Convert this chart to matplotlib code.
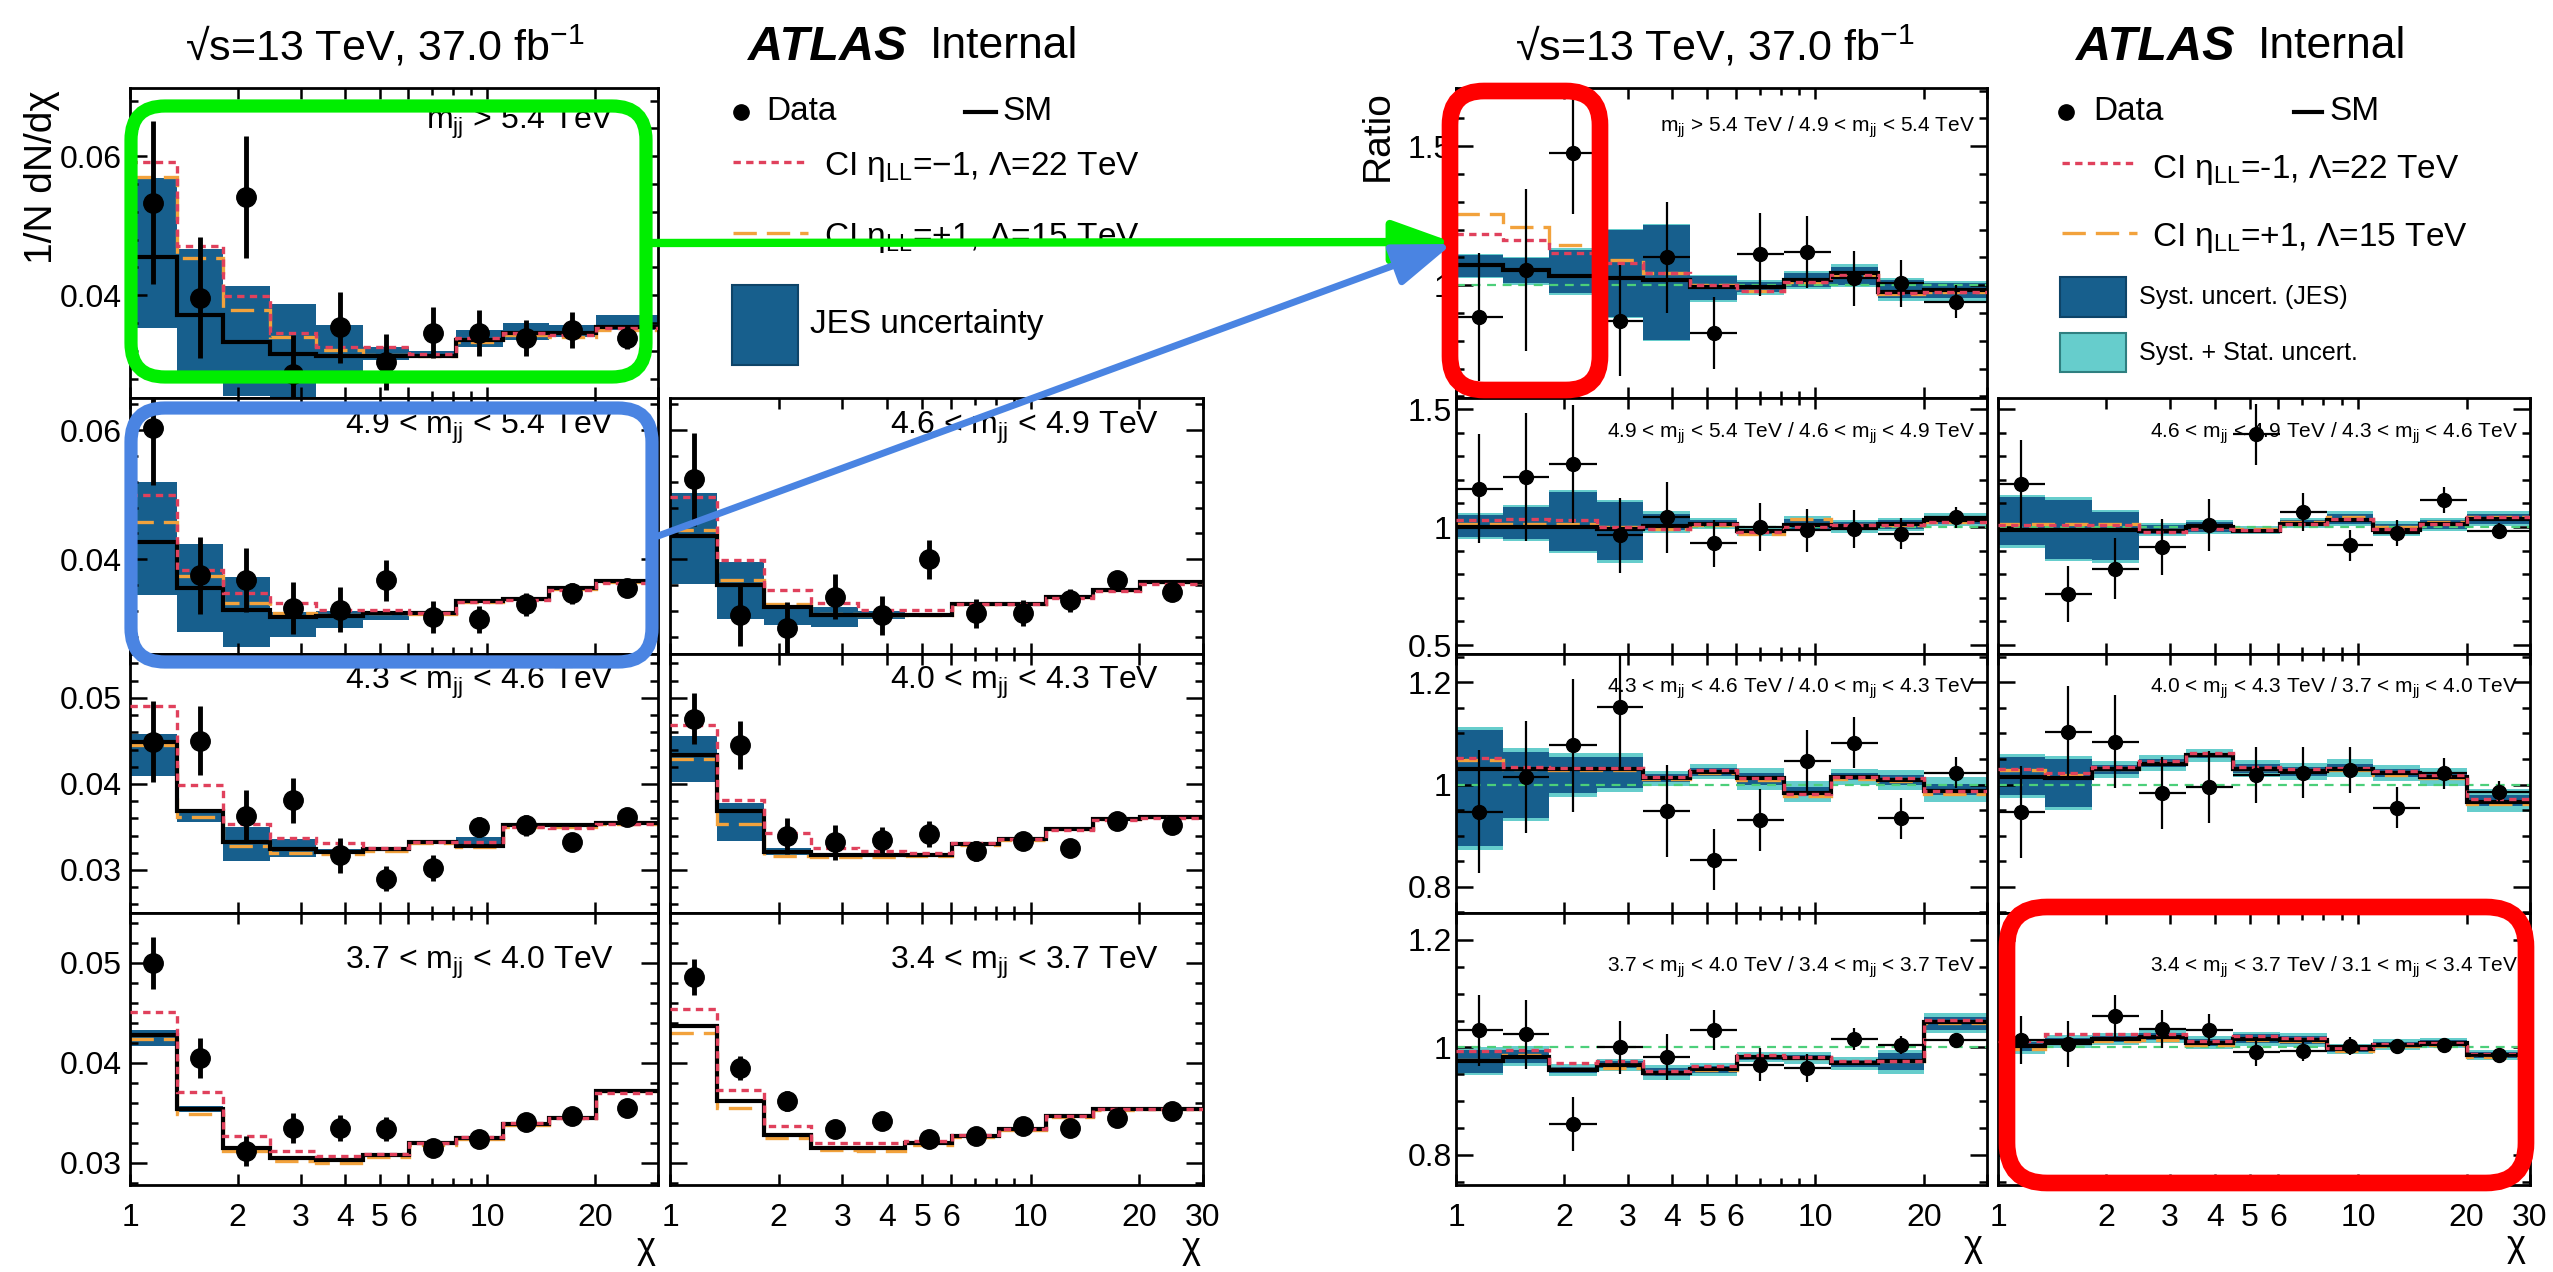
import numpy as np
import matplotlib
matplotlib.use('Agg')
import matplotlib.pyplot as plt
from matplotlib.patches import FancyBboxPatch, Rectangle
from matplotlib.ticker import FixedLocator, MultipleLocator, NullFormatter

plt.rcParams['font.family'] = ['Liberation Sans', 'DejaVu Sans']
plt.rcParams['mathtext.fontset'] = 'custom'
plt.rcParams['mathtext.rm'] = 'Liberation Sans'
plt.rcParams['mathtext.it'] = 'Liberation Sans:italic'
plt.rcParams['mathtext.bf'] = 'Liberation Sans:bold'

W, H = 2553, 1272

# chi binning
chi_edges = [1.0, 1.35, 1.82, 2.46, 3.32, 4.48, 6.05, 8.17, 11.02, 14.88, 20.09, 30.0]

# ---------------- normalised chi distributions, one entry per mjj slice ----------------
dist_labels = ['m$_{\\mathrm{jj}}$ > 5.4 TeV',
               '4.9 < m$_{\\mathrm{jj}}$ < 5.4 TeV',
               '4.6 < m$_{\\mathrm{jj}}$ < 4.9 TeV',
               '4.3 < m$_{\\mathrm{jj}}$ < 4.6 TeV',
               '4.0 < m$_{\\mathrm{jj}}$ < 4.3 TeV',
               '3.7 < m$_{\\mathrm{jj}}$ < 4.0 TeV',
               '3.4 < m$_{\\mathrm{jj}}$ < 3.7 TeV']
dist_data = [
    [0.0533, 0.0396, 0.0541, 0.0287, 0.0354, 0.0304, 0.0346, 0.0345, 0.0338, 0.0350, 0.0338],
    [0.0603, 0.0375, 0.0368, 0.0324, 0.0322, 0.0367, 0.0310, 0.0307, 0.0330, 0.0347, 0.0356],
    [0.0524, 0.0313, 0.0293, 0.0342, 0.0313, 0.0400, 0.0316, 0.0316, 0.0336, 0.0367, 0.0349],
    [0.0449, 0.0450, 0.0363, 0.0381, 0.0317, 0.0290, 0.0302, 0.0350, 0.0352, 0.0332, 0.0361],
    [0.0476, 0.0445, 0.0339, 0.0332, 0.0335, 0.0342, 0.0322, 0.0334, 0.0325, 0.0357, 0.0352],
    [0.0500, 0.0405, 0.0312, 0.0335, 0.0335, 0.0334, 0.0315, 0.0324, 0.0341, 0.0347, 0.0355],
    [0.0486, 0.0395, 0.0362, 0.0334, 0.0342, 0.0324, 0.0327, 0.0337, 0.0335, 0.0345, 0.0352],
]
dist_err = [
    [0.0117, 0.0087, 0.0088, 0.0055, 0.0051, 0.0040, 0.0037, 0.0033, 0.0026, 0.0026, 0.0015],
    [0.0088, 0.0060, 0.0050, 0.0040, 0.0035, 0.0032, 0.0025, 0.0021, 0.0018, 0.0016, 0.0010],
    [0.0072, 0.0048, 0.0040, 0.0035, 0.0030, 0.0030, 0.0022, 0.0020, 0.0018, 0.0013, 0.0008],
    [0.0047, 0.0040, 0.0030, 0.0026, 0.0020, 0.0015, 0.0015, 0.0012, 0.0012, 0.0008, 0.0008],
    [0.0030, 0.0028, 0.0021, 0.0020, 0.0015, 0.0015, 0.0012, 0.0010, 0.0008, 0.0008, 0.0007],
    [0.0026, 0.0020, 0.0015, 0.0015, 0.0013, 0.0012, 0.0008, 0.0007, 0.0006, 0.0006, 0.0006],
    [0.0018, 0.0012, 0.0010, 0.0008, 0.0006, 0.0005, 0.0005, 0.0005, 0.0005, 0.0005, 0.0005],
]
dist_sm = [
    [0.0455, 0.0372, 0.0333, 0.0316, 0.0312, 0.0312, 0.0312, 0.0335, 0.0345, 0.0345, 0.0354],
    [0.0427, 0.0355, 0.0321, 0.0310, 0.0312, 0.0316, 0.0316, 0.0335, 0.0339, 0.0355, 0.0366],
    [0.0436, 0.0360, 0.0326, 0.0313, 0.0313, 0.0313, 0.0331, 0.0331, 0.0342, 0.0353, 0.0365],
    [0.0449, 0.0368, 0.0332, 0.0324, 0.0321, 0.0324, 0.0333, 0.0328, 0.0352, 0.0352, 0.0355],
    [0.0434, 0.0368, 0.0321, 0.0317, 0.0317, 0.0317, 0.0330, 0.0336, 0.0348, 0.0359, 0.0361],
    [0.0428, 0.0354, 0.0315, 0.0305, 0.0303, 0.0308, 0.0320, 0.0325, 0.0339, 0.0345, 0.0372],
    [0.0437, 0.0362, 0.0328, 0.0315, 0.0315, 0.0320, 0.0327, 0.0334, 0.0347, 0.0354, 0.0354],
]
dist_jes_lo = [
    [0.0352, 0.0290, 0.0255, 0.0254, 0.0285, 0.0306, 0.0309, 0.0326, 0.0335, 0.0340, 0.0350],
    [0.0344, 0.0287, 0.0264, 0.0280, 0.0294, 0.0306, 0.0312, 0.0332, 0.0336, 0.0352, 0.0363],
    [0.0362, 0.0308, 0.0298, 0.0295, 0.0308, 0.0310, 0.0328, 0.0328, 0.0339, 0.0350, 0.0362],
    [0.0409, 0.0356, 0.0310, 0.0315, 0.0318, 0.0322, 0.0331, 0.0326, 0.0350, 0.0350, 0.0353],
    [0.0402, 0.0334, 0.0317, 0.0315, 0.0315, 0.0315, 0.0329, 0.0335, 0.0347, 0.0358, 0.0360],
    [0.0417, 0.0351, 0.0313, 0.0303, 0.0302, 0.0307, 0.0319, 0.0324, 0.0338, 0.0344, 0.0371],
    [0.0435, 0.0360, 0.0327, 0.0314, 0.0314, 0.0319, 0.0326, 0.0333, 0.0346, 0.0353, 0.0353],
]
dist_jes_hi = [
    [0.0568, 0.0467, 0.0413, 0.0387, 0.0357, 0.0325, 0.0320, 0.0350, 0.0360, 0.0357, 0.0371],
    [0.0520, 0.0424, 0.0373, 0.0318, 0.0320, 0.0318, 0.0320, 0.0338, 0.0342, 0.0358, 0.0369],
    [0.0502, 0.0396, 0.0326, 0.0326, 0.0320, 0.0316, 0.0334, 0.0334, 0.0345, 0.0356, 0.0368],
    [0.0458, 0.0371, 0.0350, 0.0336, 0.0324, 0.0326, 0.0335, 0.0338, 0.0354, 0.0354, 0.0357],
    [0.0456, 0.0378, 0.0325, 0.0320, 0.0319, 0.0319, 0.0331, 0.0337, 0.0349, 0.0360, 0.0362],
    [0.0433, 0.0357, 0.0317, 0.0307, 0.0305, 0.0309, 0.0321, 0.0326, 0.0340, 0.0346, 0.0373],
    [0.0439, 0.0364, 0.0329, 0.0316, 0.0316, 0.0321, 0.0328, 0.0335, 0.0348, 0.0355, 0.0355],
]
dist_ci_neg = [
    [0.0592, 0.0470, 0.0399, 0.0345, 0.0326, 0.0326, 0.0316, 0.0338, 0.0345, 0.0342, 0.0352],
    [0.0500, 0.0383, 0.0347, 0.0332, 0.0322, 0.0322, 0.0316, 0.0333, 0.0337, 0.0352, 0.0363],
    [0.0497, 0.0398, 0.0353, 0.0332, 0.0321, 0.0321, 0.0330, 0.0330, 0.0340, 0.0351, 0.0362],
    [0.0491, 0.0399, 0.0353, 0.0337, 0.0331, 0.0326, 0.0333, 0.0333, 0.0350, 0.0349, 0.0353],
    [0.0468, 0.0381, 0.0343, 0.0326, 0.0322, 0.0320, 0.0331, 0.0336, 0.0347, 0.0358, 0.0360],
    [0.0451, 0.0371, 0.0327, 0.0312, 0.0307, 0.0309, 0.0320, 0.0326, 0.0340, 0.0345, 0.0370],
    [0.0454, 0.0373, 0.0337, 0.0320, 0.0320, 0.0322, 0.0328, 0.0334, 0.0347, 0.0354, 0.0354],
]
dist_ci_pos = [
    [0.0570, 0.0453, 0.0378, 0.0340, 0.0321, 0.0314, 0.0313, 0.0333, 0.0342, 0.0340, 0.0350],
    [0.0458, 0.0374, 0.0332, 0.0316, 0.0314, 0.0316, 0.0315, 0.0334, 0.0338, 0.0354, 0.0365],
    [0.0446, 0.0367, 0.0330, 0.0315, 0.0314, 0.0313, 0.0331, 0.0331, 0.0342, 0.0353, 0.0365],
    [0.0445, 0.0362, 0.0328, 0.0320, 0.0318, 0.0322, 0.0331, 0.0327, 0.0350, 0.0350, 0.0353],
    [0.0429, 0.0353, 0.0316, 0.0315, 0.0315, 0.0316, 0.0329, 0.0335, 0.0348, 0.0359, 0.0361],
    [0.0424, 0.0349, 0.0312, 0.0302, 0.0300, 0.0306, 0.0318, 0.0324, 0.0338, 0.0345, 0.0372],
    [0.0430, 0.0355, 0.0325, 0.0313, 0.0312, 0.0318, 0.0326, 0.0333, 0.0346, 0.0353, 0.0354],
]

# ---------------- ratios of neighbouring mjj slices ----------------
ratio_labels = ['m$_{\\mathrm{jj}}$ > 5.4 TeV / 4.9 < m$_{\\mathrm{jj}}$ < 5.4 TeV',
                '4.9 < m$_{\\mathrm{jj}}$ < 5.4 TeV / 4.6 < m$_{\\mathrm{jj}}$ < 4.9 TeV',
                '4.6 < m$_{\\mathrm{jj}}$ < 4.9 TeV / 4.3 < m$_{\\mathrm{jj}}$ < 4.6 TeV',
                '4.3 < m$_{\\mathrm{jj}}$ < 4.6 TeV / 4.0 < m$_{\\mathrm{jj}}$ < 4.3 TeV',
                '4.0 < m$_{\\mathrm{jj}}$ < 4.3 TeV / 3.7 < m$_{\\mathrm{jj}}$ < 4.0 TeV',
                '3.7 < m$_{\\mathrm{jj}}$ < 4.0 TeV / 3.4 < m$_{\\mathrm{jj}}$ < 3.7 TeV',
                '3.4 < m$_{\\mathrm{jj}}$ < 3.7 TeV / 3.1 < m$_{\\mathrm{jj}}$ < 3.4 TeV']
ratio_data = [
    [0.884, 1.054, 1.475, 0.872, 1.100, 0.827, 1.111, 1.120, 1.024, 1.006, 0.940],
    [1.163, 1.212, 1.269, 0.965, 1.042, 0.932, 1.000, 0.986, 0.993, 0.972, 1.042],
    [1.181, 0.717, 0.823, 0.915, 1.007, 1.393, 1.064, 0.922, 0.975, 1.113, 0.983],
    [0.947, 1.015, 1.077, 1.152, 0.949, 0.853, 0.931, 1.046, 1.082, 0.934, 1.023],
    [0.947, 1.103, 1.084, 0.984, 0.995, 1.019, 1.023, 1.028, 0.955, 1.022, 0.986],
    [1.032, 1.024, 0.858, 1.000, 0.982, 1.032, 0.968, 0.962, 1.016, 1.005, 1.013],
    [1.014, 1.007, 1.058, 1.034, 1.033, 0.991, 0.994, 1.003, 1.003, 1.005, 0.986],
]
ratio_err = [
    [0.23, 0.29, 0.22, 0.20, 0.20, 0.13, 0.15, 0.13, 0.10, 0.085, 0.06],
    [0.23, 0.27, 0.25, 0.16, 0.15, 0.10, 0.10, 0.09, 0.08, 0.065, 0.045],
    [0.19, 0.12, 0.13, 0.12, 0.11, 0.13, 0.08, 0.065, 0.055, 0.055, 0.035],
    [0.12, 0.11, 0.13, 0.12, 0.09, 0.06, 0.06, 0.06, 0.05, 0.04, 0.03],
    [0.09, 0.09, 0.09, 0.07, 0.07, 0.055, 0.05, 0.045, 0.04, 0.03, 0.02],
    [0.066, 0.064, 0.05, 0.05, 0.042, 0.037, 0.03, 0.026, 0.02, 0.017, 0.012],
    [0.045, 0.043, 0.04, 0.035, 0.03, 0.025, 0.02, 0.017, 0.013, 0.01, 0.008],
]
ratio_sm = [
    [1.072, 1.054, 1.032, 1.024, 1.020, 0.992, 0.992, 1.018, 1.042, 0.976, 0.982],
    [1.000, 1.000, 1.000, 0.993, 1.003, 1.014, 0.983, 1.007, 1.003, 1.014, 1.028],
    [0.989, 0.989, 0.989, 0.983, 1.000, 0.983, 1.014, 1.028, 0.986, 1.014, 1.035],
    [1.031, 1.031, 1.031, 1.031, 1.012, 1.025, 1.012, 0.984, 1.015, 1.009, 0.988],
    [1.015, 1.012, 1.031, 1.041, 1.058, 1.031, 1.026, 1.031, 1.022, 1.015, 0.966],
    [0.974, 0.983, 0.958, 0.968, 0.953, 0.960, 0.983, 0.980, 0.971, 0.974, 1.048],
    [1.002, 1.011, 1.016, 1.020, 1.009, 1.016, 1.014, 0.997, 1.005, 1.008, 0.986],
]
ratio_jes_lo = [
    [1.030, 1.006, 0.970, 0.886, 0.803, 0.946, 0.975, 0.994, 1.000, 0.952, 0.952],
    [0.958, 0.950, 0.900, 0.859, 0.986, 1.000, 0.972, 0.993, 0.986, 0.993, 1.014],
    [0.922, 0.866, 0.859, 0.972, 0.979, 0.979, 1.007, 1.014, 0.972, 0.993, 1.014],
    [0.879, 0.935, 0.983, 0.993, 1.004, 1.017, 1.000, 0.978, 1.008, 1.000, 0.980],
    [0.979, 0.957, 1.020, 1.035, 1.052, 1.022, 1.017, 1.024, 1.015, 1.008, 0.958],
    [0.952, 0.971, 0.952, 0.961, 0.946, 0.952, 0.977, 0.977, 0.964, 0.958, 1.033],
    [0.993, 1.004, 1.010, 1.013, 1.002, 1.008, 1.006, 0.992, 1.000, 1.003, 0.981],
]
ratio_jes_hi = [
    [1.108, 1.096, 1.126, 1.197, 1.215, 1.032, 1.010, 1.042, 1.066, 1.018, 1.006],
    [1.050, 1.085, 1.148, 1.106, 1.057, 1.028, 0.993, 1.035, 1.021, 1.028, 1.049],
    [1.127, 1.116, 1.064, 1.007, 1.021, 0.993, 1.028, 1.057, 1.014, 1.028, 1.057],
    [1.106, 1.064, 1.054, 1.054, 1.020, 1.033, 1.022, 0.995, 1.022, 1.018, 1.001],
    [1.054, 1.050, 1.038, 1.050, 1.062, 1.040, 1.034, 1.041, 1.030, 1.022, 0.980],
    [0.996, 0.996, 0.964, 0.974, 0.961, 0.965, 0.986, 0.986, 0.977, 0.989, 1.057],
    [1.010, 1.018, 1.022, 1.027, 1.016, 1.024, 1.022, 1.002, 1.010, 1.013, 0.991],
]
ratio_tot_lo = [
    [1.025, 1.000, 0.965, 0.880, 0.798, 0.940, 0.966, 0.985, 0.992, 0.944, 0.944],
    [0.948, 0.940, 0.890, 0.849, 0.976, 0.990, 0.962, 0.983, 0.976, 0.983, 1.004],
    [0.912, 0.856, 0.849, 0.962, 0.969, 0.969, 0.997, 1.004, 0.962, 0.983, 1.004],
    [0.872, 0.928, 0.976, 0.986, 0.997, 1.010, 0.989, 0.966, 1.000, 0.990, 0.965],
    [0.973, 0.951, 1.012, 1.027, 1.044, 1.014, 1.008, 1.015, 1.006, 0.998, 0.946],
    [0.948, 0.966, 0.946, 0.956, 0.940, 0.946, 0.972, 0.970, 0.958, 0.950, 1.026],
    [0.988, 0.999, 1.005, 1.008, 0.997, 1.003, 1.001, 0.987, 0.995, 0.998, 0.976],
]
ratio_tot_hi = [
    [1.113, 1.102, 1.132, 1.203, 1.220, 1.038, 1.020, 1.050, 1.075, 1.026, 1.014],
    [1.060, 1.095, 1.158, 1.116, 1.067, 1.038, 1.003, 1.045, 1.031, 1.038, 1.059],
    [1.137, 1.126, 1.074, 1.017, 1.031, 1.003, 1.038, 1.067, 1.024, 1.038, 1.067],
    [1.113, 1.071, 1.061, 1.061, 1.027, 1.040, 1.033, 1.007, 1.030, 1.028, 1.015],
    [1.060, 1.056, 1.046, 1.058, 1.070, 1.048, 1.043, 1.050, 1.039, 1.032, 0.992],
    [1.000, 1.002, 0.970, 0.979, 0.967, 0.971, 0.992, 0.992, 0.983, 0.996, 1.064],
    [1.015, 1.023, 1.027, 1.032, 1.021, 1.029, 1.027, 1.007, 1.015, 1.018, 0.996],
]
ratio_ci_neg = [
    [1.185, 1.164, 1.114, 1.078, 1.042, 1.000, 0.980, 1.012, 1.036, 0.970, 0.976],
    [1.028, 1.035, 1.028, 1.000, 0.993, 1.014, 0.979, 1.000, 1.007, 1.007, 1.021],
    [1.007, 1.007, 1.007, 0.979, 0.993, 0.986, 1.014, 1.035, 0.993, 1.014, 1.042],
    [1.051, 1.035, 1.032, 1.032, 1.015, 1.028, 1.012, 0.982, 1.015, 1.012, 0.988],
    [1.031, 1.022, 1.035, 1.045, 1.062, 1.035, 1.031, 1.033, 1.026, 1.019, 0.972],
    [0.993, 0.995, 0.971, 0.974, 0.957, 0.965, 0.985, 0.983, 0.974, 0.974, 1.051],
    [1.011, 1.024, 1.024, 1.024, 1.011, 1.021, 1.018, 0.999, 1.007, 1.009, 0.988],
]
ratio_ci_pos = [
    [1.257, 1.209, 1.144, 1.090, 1.042, 1.000, 0.980, 1.012, 1.036, 0.968, 0.974],
    [1.014, 1.014, 1.014, 1.000, 0.993, 1.010, 0.972, 1.035, 1.007, 1.007, 1.021],
    [1.014, 1.014, 1.014, 0.989, 1.000, 0.993, 1.021, 1.042, 1.000, 1.021, 1.042],
    [1.048, 1.030, 1.028, 1.028, 1.010, 1.022, 1.008, 0.978, 1.010, 1.006, 0.982],
    [1.028, 1.019, 1.031, 1.043, 1.058, 1.030, 1.026, 1.029, 1.019, 1.012, 0.962],
    [0.977, 0.986, 0.960, 0.961, 0.953, 0.958, 0.983, 0.980, 0.972, 0.974, 1.046],
    [0.997, 1.008, 1.011, 1.014, 1.005, 1.013, 1.011, 0.993, 1.002, 1.005, 0.983],
]

# (row, col) of each mjj slice in the 4x2 grids
cells = [(0, 0), (1, 0), (1, 1), (2, 0), (2, 1), (3, 0), (3, 1)]

# ---------------- layout (pixels) ----------------
row_px = [(88, 398), (398, 654), (654, 913), (913, 1185)]
dist_cols = [(130, 658), (670, 1203)]
ratio_cols = [(1456, 1987), (1998, 2530)]

dist_ylim = [(0.0252, 0.0698), (0.0253, 0.065), (0.025, 0.0551), (0.0278, 0.055)]
dist_yticks = [[0.04, 0.06], [0.04, 0.06], [0.03, 0.04, 0.05], [0.03, 0.04, 0.05]]
dist_ytlab = [['0.04', '0.06'], ['0.04', '0.06'], ['0.03', '0.04', '0.05'], ['0.03', '0.04', '0.05']]
dist_yminor = [0.004, 0.004, 0.002, 0.002]
dist_label_dy = [35, 30, 29, 50]

ratio_ylim = [(0.594, 1.709), (0.462, 1.547), (0.749, 1.255), (0.744, 1.25)]
ratio_yticks = [[1.0, 1.5], [0.5, 1.0, 1.5], [0.8, 1.0, 1.2], [0.8, 1.0, 1.2]]
ratio_ytlab = [['1', '1.5'], ['0.5', '1', '1.5'], ['0.8', '1', '1.2'], ['0.8', '1', '1.2']]
ratio_yminor = [0.1, 0.1, 0.05, 0.05]
ratio_label_dy = [39, 35, 34, 54]

x_major = [1, 2, 3, 4, 5, 6, 10, 20, 30]
x_minor = [7, 8, 9]
x_lab_col = [['1', '2', '3', '4', '5', '6', '10', '20', ''],
             ['1', '2', '3', '4', '5', '6', '10', '20', '30']]

JES_BLUE = '#175f8d'
TOT_CYAN = '#66cdcc'
RED = '#e0415c'
ORANGE = '#f2a23c'
RED_DASH = (0, (2.2, 1.6))
ORANGE_DASH = (0, (7, 3))

edges = np.array(chi_edges)
xc = np.sqrt(edges[:-1] * edges[1:])

fig = plt.figure(figsize=(W / 100, H / 100), dpi=100)


def add_panel(xr, yr):
    x0, x1 = xr
    y0, y1 = yr
    return fig.add_axes([x0 / W, 1 - y1 / H, (x1 - x0) / W, (y1 - y0) / H])


def style_axes(ax, row, col, ylim, yticks, ytlab, yminor, ypad):
    ax.set_xscale('log')
    ax.set_xlim(edges[0], edges[-1])
    ax.set_ylim(*ylim)
    ax.set_xticks(x_major)
    ax.xaxis.set_minor_locator(FixedLocator(x_minor))
    ax.xaxis.set_minor_formatter(NullFormatter())
    if row == 3:
        ax.set_xticklabels(x_lab_col[col])
    else:
        ax.set_xticklabels([])
    ax.set_yticks(yticks)
    ax.set_yticklabels(ytlab if col == 0 else [])
    ax.yaxis.set_minor_locator(MultipleLocator(yminor))
    ax.tick_params(which='both', direction='in', top=True, right=True, width=1.8)
    ax.tick_params(axis='y', which='major', length=12, labelsize=23, pad=ypad)
    ax.tick_params(axis='y', which='minor', length=6)
    ax.tick_params(axis='x', which='major', length=8, labelsize=23, pad=13)
    ax.tick_params(axis='x', which='minor', length=5)
    for sp in ax.spines.values():
        sp.set_linewidth(2)


# ---------------- left block: 1/N dN/dchi ----------------
for i, (row, col) in enumerate(cells):
    ax = add_panel(dist_cols[col], row_px[row])
    ax.stairs(dist_jes_hi[i], edges, baseline=dist_jes_lo[i], fill=True,
              color=JES_BLUE, lw=0, zorder=1)
    ax.stairs(dist_ci_pos[i], edges, baseline=None, color=ORANGE, lw=2.4,
              ls=ORANGE_DASH, zorder=2)
    ax.stairs(dist_sm[i], edges, baseline=None, color='black', lw=3, zorder=3)
    ax.stairs(dist_ci_neg[i], edges, baseline=None, color=RED, lw=2.4,
              ls=RED_DASH, zorder=4)
    ax.errorbar(xc, dist_data[i], yerr=dist_err[i], fmt='o', color='black',
                ms=14, elinewidth=3.5, capsize=0, zorder=5)
    style_axes(ax, row, col, dist_ylim[row], dist_yticks[row], dist_ytlab[row],
               dist_yminor[row], 6)
    ax.annotate(dist_labels[i], xy=(1, 1), xycoords='axes fraction',
                xytext=(-44, -dist_label_dy[row]), textcoords='offset pixels',
                ha='right', va='center', fontsize=23)
    if row == 3:
        ax.annotate('χ', xy=(1, 0), xycoords='axes fraction', xytext=(-2, -64),
                    textcoords='offset pixels', ha='right', va='center', fontsize=26)

# ---------------- right block: ratios ----------------
for i, (row, col) in enumerate(cells):
    ax = add_panel(ratio_cols[col], row_px[row])
    ax.stairs(ratio_tot_hi[i], edges, baseline=ratio_tot_lo[i], fill=True,
              color=TOT_CYAN, lw=0, zorder=1)
    ax.stairs(ratio_jes_hi[i], edges, baseline=ratio_jes_lo[i], fill=True,
              color=JES_BLUE, lw=0, zorder=1.5)
    ax.axhline(1.0, color='#4ccf7a', lw=1.6, ls=(0, (4, 3)), zorder=2)
    ax.stairs(ratio_ci_pos[i], edges, baseline=None, color=ORANGE, lw=2.4,
              ls=ORANGE_DASH, zorder=2.2)
    ax.stairs(ratio_sm[i], edges, baseline=None, color='black', lw=3, zorder=3)
    ax.stairs(ratio_ci_neg[i], edges, baseline=None, color=RED, lw=2.4,
              ls=RED_DASH, zorder=4)
    ax.errorbar(xc, ratio_data[i], yerr=ratio_err[i],
                xerr=[xc - edges[:-1], edges[1:] - xc], fmt='o', color='black',
                ms=10, elinewidth=1.6, capsize=0, zorder=5)
    style_axes(ax, row, col, ratio_ylim[row], ratio_yticks[row], ratio_ytlab[row],
               ratio_yminor[row], 3)
    ax.annotate(ratio_labels[i], xy=(1, 1), xycoords='axes fraction',
                xytext=(-12, -ratio_label_dy[row]), textcoords='offset pixels',
                ha='right', va='center', fontsize=15)
    if row == 3:
        ax.annotate('χ', xy=(1, 0), xycoords='axes fraction', xytext=(-4, -62),
                    textcoords='offset pixels', ha='right', va='center', fontsize=26)

# ---------------- overlay in pixel coordinates: titles, legends, highlights ----------------
ov = fig.add_axes([0, 0, 1, 1])
ov.set_xlim(0, W)
ov.set_ylim(H, 0)
ov.axis('off')
ov.set_facecolor('none')

title = '√s=13 TeV, 37.0 fb$^{-1}$'
ov.text(385, 47, title, fontsize=31, ha='center', va='center')
ov.text(1715, 47, title, fontsize=31, ha='center', va='center')
for xa, xi in [(748, 930), (2076, 2258)]:
    ov.text(xa, 47, 'ATLAS', fontsize=35, fontweight='bold', style='italic', va='center')
    ov.text(xi, 47, 'Internal', fontsize=32, va='center')

ov.text(42, 90, '1/N dN/dχ', rotation=90, fontsize=28, ha='center', va='top')
ov.text(1378, 90, 'Ratio', rotation=90, fontsize=28, ha='center', va='top')

# legend of the distributions
ov.plot([741], [112], 'o', color='black', ms=11)
ov.text(766, 112, 'Data', fontsize=24, va='center')
ov.plot([965, 996], [112, 112], color='black', lw=3)
ov.text(1002, 112, 'SM', fontsize=24, va='center')
ov.plot([733, 808], [162, 162], color=RED, lw=2.4, ls=RED_DASH)
ov.text(824, 167, 'CI η$_{\\mathrm{LL}}$=−1, Λ=22 TeV', fontsize=24, va='center')
ov.plot([733, 808], [233, 233], color=ORANGE, lw=2.4, ls=ORANGE_DASH)
ov.text(824, 238, 'CI η$_{\\mathrm{LL}}$=+1, Λ=15 TeV', fontsize=24, va='center')
ov.add_patch(Rectangle((732, 285), 66, 80, facecolor=JES_BLUE, edgecolor='#0e4468', lw=1.5))
ov.text(810, 325, 'JES uncertainty', fontsize=24, va='center')

# legend of the ratios
ov.plot([2066], [112], 'o', color='black', ms=11)
ov.text(2093, 112, 'Data', fontsize=24, va='center')
ov.plot([2294, 2322], [112, 112], color='black', lw=3)
ov.text(2329, 112, 'SM', fontsize=24, va='center')
ov.plot([2062, 2137], [163, 163], color=RED, lw=2.4, ls=RED_DASH)
ov.text(2152, 170, 'CI η$_{\\mathrm{LL}}$=-1, Λ=22 TeV', fontsize=24, va='center')
ov.plot([2062, 2137], [233, 233], color=ORANGE, lw=2.4, ls=ORANGE_DASH)
ov.text(2152, 238, 'CI η$_{\\mathrm{LL}}$=+1, Λ=15 TeV', fontsize=24, va='center')
ov.add_patch(Rectangle((2060, 277), 66, 40, facecolor=JES_BLUE, edgecolor='#0e4468', lw=1.5))
ov.text(2139, 297, 'Syst. uncert. (JES)', fontsize=18, va='center')
ov.add_patch(Rectangle((2060, 333), 66, 39, facecolor=TOT_CYAN, edgecolor='#2f7f80', lw=1.5))
ov.text(2139, 353, 'Syst. + Stat. uncert.', fontsize=18, va='center')

# highlight boxes and arrows
GREEN = '#00ee00'
BLUE = '#4a84e2'
RED_BOX = '#ff0000'


def round_box(x0, y0, x1, y1, color, lw, r):
    ov.add_patch(FancyBboxPatch((x0, y0), x1 - x0, y1 - y0,
                                boxstyle='round,pad=0,rounding_size=%d' % r,
                                fill=False, edgecolor=color, lw=lw, zorder=10))


round_box(131, 106, 646, 377, GREEN, 9.5, 34)
round_box(131, 408, 652, 662, BLUE, 9.5, 34)
round_box(1450, 91, 1600, 390, RED_BOX, 12, 34)
round_box(2007, 907, 2526, 1183, RED_BOX, 12, 40)

arrow_head = '-|>,head_length=3.6,head_width=1.3'
ov.annotate('', xy=(1452, 242), xytext=(646, 243),
            arrowprops=dict(arrowstyle=arrow_head, color=GREEN, lw=6,
                            shrinkA=0, shrinkB=0, mutation_scale=10), zorder=11)
ov.annotate('', xy=(1452, 244), xytext=(658, 536),
            arrowprops=dict(arrowstyle=arrow_head, color=BLUE, lw=5,
                            shrinkA=0, shrinkB=0, mutation_scale=10), zorder=11)

fig.savefig('out.png', dpi=100)
